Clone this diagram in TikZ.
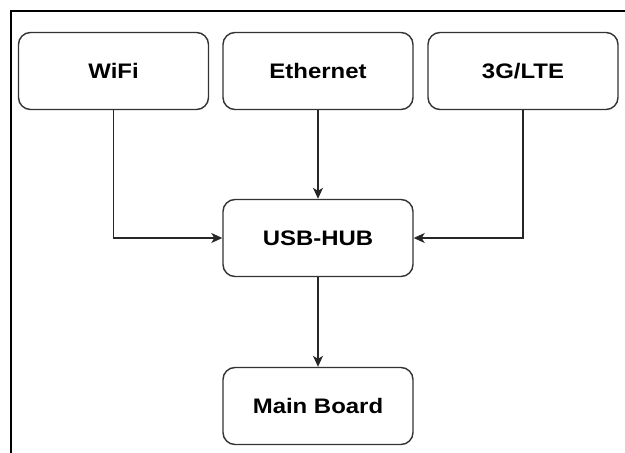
\documentclass[tikz,border=0pt]{standalone}
\usepackage{fontspec}
\setmainfont{Liberation Sans}
\usetikzlibrary{arrows.meta}
\tikzset{
  blockbox/.style={draw=black!80, line width=1.4pt, rounded corners=12pt,
    minimum width=190pt, minimum height=77pt, fill=white,
    font=\fontsize{21}{25}\selectfont\bfseries},
  link/.style={draw=black!85, line width=1.3pt,
    -{Stealth[length=11pt,width=10pt,inset=3pt]}},
  frameline/.style={draw=black, line width=2.2pt}
}
\newcommand{\wtext}[1]{\scalebox{1.14}[1]{#1}}
\begin{document}
\begin{tikzpicture}[x=1pt,y=-1pt]
  \useasboundingbox (0,0) rectangle (625,453);
  % frame edges
  \draw[frameline] (11,453) -- (11,11) -- (625,11);
  % blocks
  \node[blockbox] (wifi) at (113.5,71) {\wtext{WiFi}};
  \node[blockbox] (eth) at (318,71) {\wtext{Ethernet}};
  \node[blockbox] (lte) at (523,71) {\wtext{3G/LTE}};
  \node[blockbox] (hub) at (318,238) {\wtext{USB-HUB}};
  \node[blockbox] (mb) at (318,406) {\wtext{Main Board}};
  % connectors
  \draw[link] (wifi.south) |- (hub.west);
  \draw[link] (eth.south) -- (hub.north);
  \draw[link] (lte.south) |- (hub.east);
  \draw[link] (hub.south) -- (mb.north);
\end{tikzpicture}
\end{document}
